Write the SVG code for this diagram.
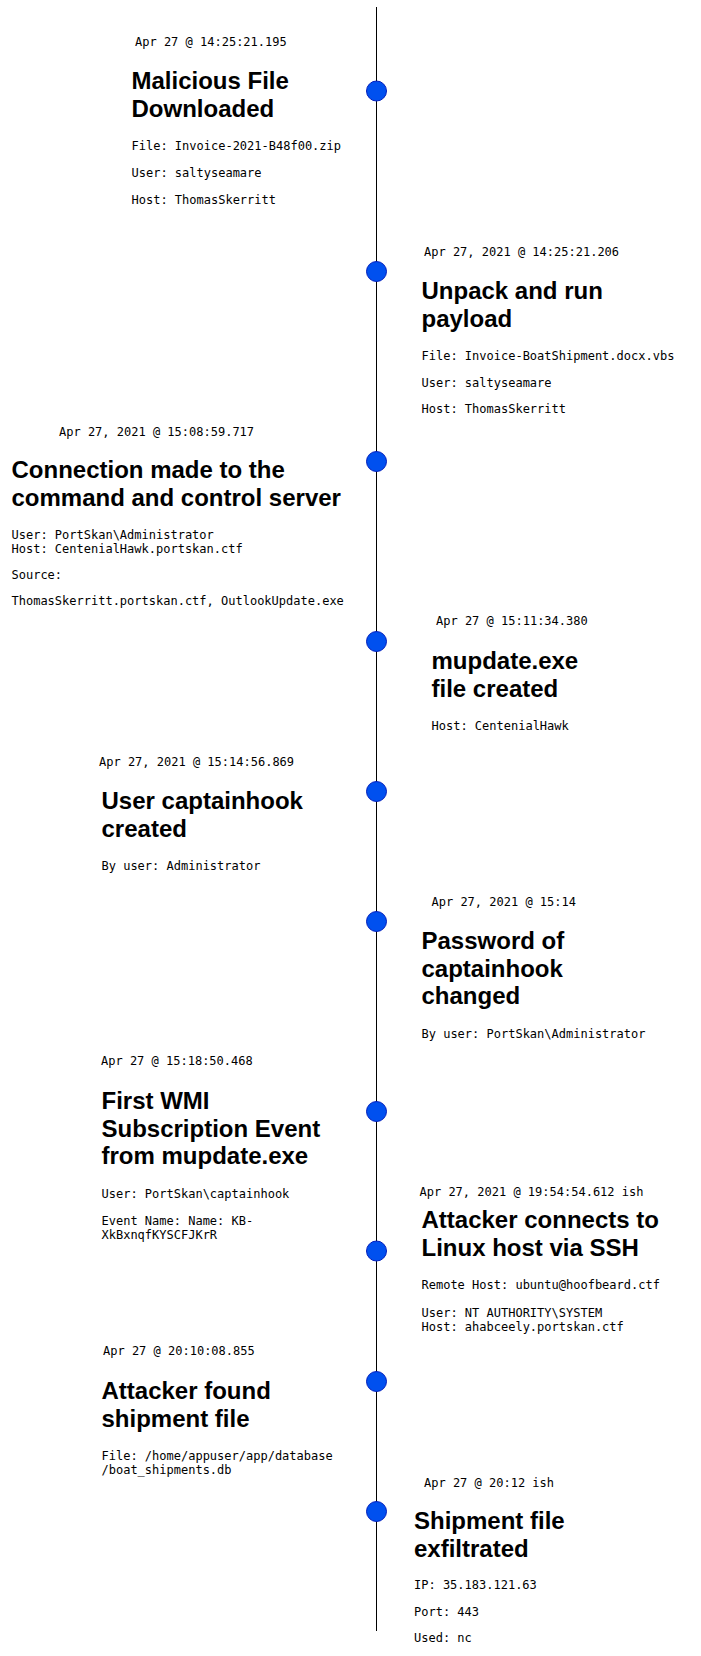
<svg xmlns="http://www.w3.org/2000/svg" width="701" height="1656" viewBox="0 0 701 1656">
<style>
.ts{font-family:"DejaVu Sans Mono","Liberation Mono",monospace;font-size:12px;fill:#000}
.tt{font-family:"Liberation Sans",Arial,sans-serif;font-size:24px;font-weight:bold;fill:#000}
.dt{font-family:"DejaVu Sans Mono","Liberation Mono",monospace;font-size:12px;fill:#000}
.dot{fill:#0050ef;stroke:#001DBC;stroke-width:1}
</style>
<rect width="701" height="1656" fill="#fff"/>
<g id="connectors">
<line x1="376.5" y1="7" x2="376.5" y2="1631" stroke="#000" stroke-width="1"/>
</g>
<g id="ev1">
<circle class="dot" cx="376.5" cy="91" r="10"/>
<text class="ts" x="135" y="46">Apr 27 @ 14:25:21.195</text>
<text class="tt" x="131.5" y="89">Malicious File</text>
<text class="tt" x="131.5" y="117">Downloaded</text>
<text class="dt" x="131.5" y="150">File: Invoice-2021-B48f00.zip</text>
<text class="dt" x="131.5" y="177">User: saltyseamare</text>
<text class="dt" x="131.5" y="204">Host: ThomasSkerritt</text>
</g>
<g id="ev2">
<circle class="dot" cx="376.5" cy="271.5" r="10"/>
<text class="ts" x="424" y="256">Apr 27, 2021 @ 14:25:21.206</text>
<text class="tt" x="421.5" y="299">Unpack and run</text>
<text class="tt" x="421.5" y="327">payload</text>
<text class="dt" x="421.5" y="360">File: Invoice-BoatShipment.docx.vbs</text>
<text class="dt" x="421.5" y="387">User: saltyseamare</text>
<text class="dt" x="421.5" y="413">Host: ThomasSkerritt</text>
</g>
<g id="ev3">
<circle class="dot" cx="376.5" cy="461.5" r="10"/>
<text class="ts" x="59" y="436">Apr 27, 2021 @ 15:08:59.717</text>
<text class="tt" x="11.5" y="478">Connection made to the</text>
<text class="tt" x="11.5" y="506">command and control server</text>
<text class="dt" x="11.5" y="539">User: PortSkan\Administrator</text>
<text class="dt" x="11.5" y="553">Host: CentenialHawk.portskan.ctf</text>
<text class="dt" x="11.5" y="579">Source:</text>
<text class="dt" x="11.5" y="605">ThomasSkerritt.portskan.ctf, OutlookUpdate.exe</text>
</g>
<g id="ev4">
<circle class="dot" cx="376.5" cy="641.5" r="10"/>
<text class="ts" x="436" y="625">Apr 27 @ 15:11:34.380</text>
<text class="tt" x="431.5" y="669">mupdate.exe</text>
<text class="tt" x="431.5" y="697">file created</text>
<text class="dt" x="431.5" y="730">Host: CentenialHawk</text>
</g>
<g id="ev5">
<circle class="dot" cx="376.5" cy="791.5" r="10"/>
<text class="ts" x="99" y="766">Apr 27, 2021 @ 15:14:56.869</text>
<text class="tt" x="101.5" y="809">User captainhook</text>
<text class="tt" x="101.5" y="837">created</text>
<text class="dt" x="101.5" y="870">By user: Administrator</text>
</g>
<g id="ev6">
<circle class="dot" cx="376.5" cy="921.5" r="10"/>
<text class="ts" x="431.5" y="906">Apr 27, 2021 @ 15:14</text>
<text class="tt" x="421.5" y="949">Password of</text>
<text class="tt" x="421.5" y="977">captainhook</text>
<text class="tt" x="421.5" y="1004">changed</text>
<text class="dt" x="421.5" y="1038">By user: PortSkan\Administrator</text>
</g>
<g id="ev7">
<circle class="dot" cx="376.5" cy="1111.5" r="10"/>
<text class="ts" x="101" y="1065">Apr 27 @ 15:18:50.468</text>
<text class="tt" x="101.5" y="1109">First WMI</text>
<text class="tt" x="101.5" y="1137">Subscription Event</text>
<text class="tt" x="101.5" y="1164">from mupdate.exe</text>
<text class="dt" x="101.5" y="1198">User: PortSkan\captainhook</text>
<text class="dt" x="101.5" y="1225">Event Name: Name: KB-</text>
<text class="dt" x="101.5" y="1239">XkBxnqfKYSCFJKrR</text>
</g>
<g id="ev8">
<circle class="dot" cx="376.5" cy="1251" r="10"/>
<text class="ts" x="419.5" y="1196">Apr 27, 2021 @ 19:54:54.612 ish</text>
<text class="tt" x="421.5" y="1228">Attacker connects to</text>
<text class="tt" x="421.5" y="1256">Linux host via SSH</text>
<text class="dt" x="421.5" y="1289">Remote Host: ubuntu@hoofbeard.ctf</text>
<text class="dt" x="421.5" y="1317">User: NT AUTHORITY\SYSTEM</text>
<text class="dt" x="421.5" y="1331">Host: ahabceely.portskan.ctf</text>
</g>
<g id="ev9">
<circle class="dot" cx="376.5" cy="1381.5" r="10"/>
<text class="ts" x="103" y="1355">Apr 27 @ 20:10:08.855</text>
<text class="tt" x="101.5" y="1399">Attacker found</text>
<text class="tt" x="101.5" y="1427">shipment file</text>
<text class="dt" x="101.5" y="1460">File: /home/appuser/app/database</text>
<text class="dt" x="101.5" y="1474">/boat_shipments.db</text>
</g>
<g id="ev10">
<circle class="dot" cx="376.5" cy="1511.5" r="10"/>
<text class="ts" x="424" y="1487">Apr 27 @ 20:12 ish</text>
<text class="tt" x="414" y="1529">Shipment file</text>
<text class="tt" x="414" y="1557">exfiltrated</text>
<text class="dt" x="414" y="1589">IP: 35.183.121.63</text>
<text class="dt" x="414" y="1616">Port: 443</text>
<text class="dt" x="414" y="1642">Used: nc</text>
</g>
</svg>
